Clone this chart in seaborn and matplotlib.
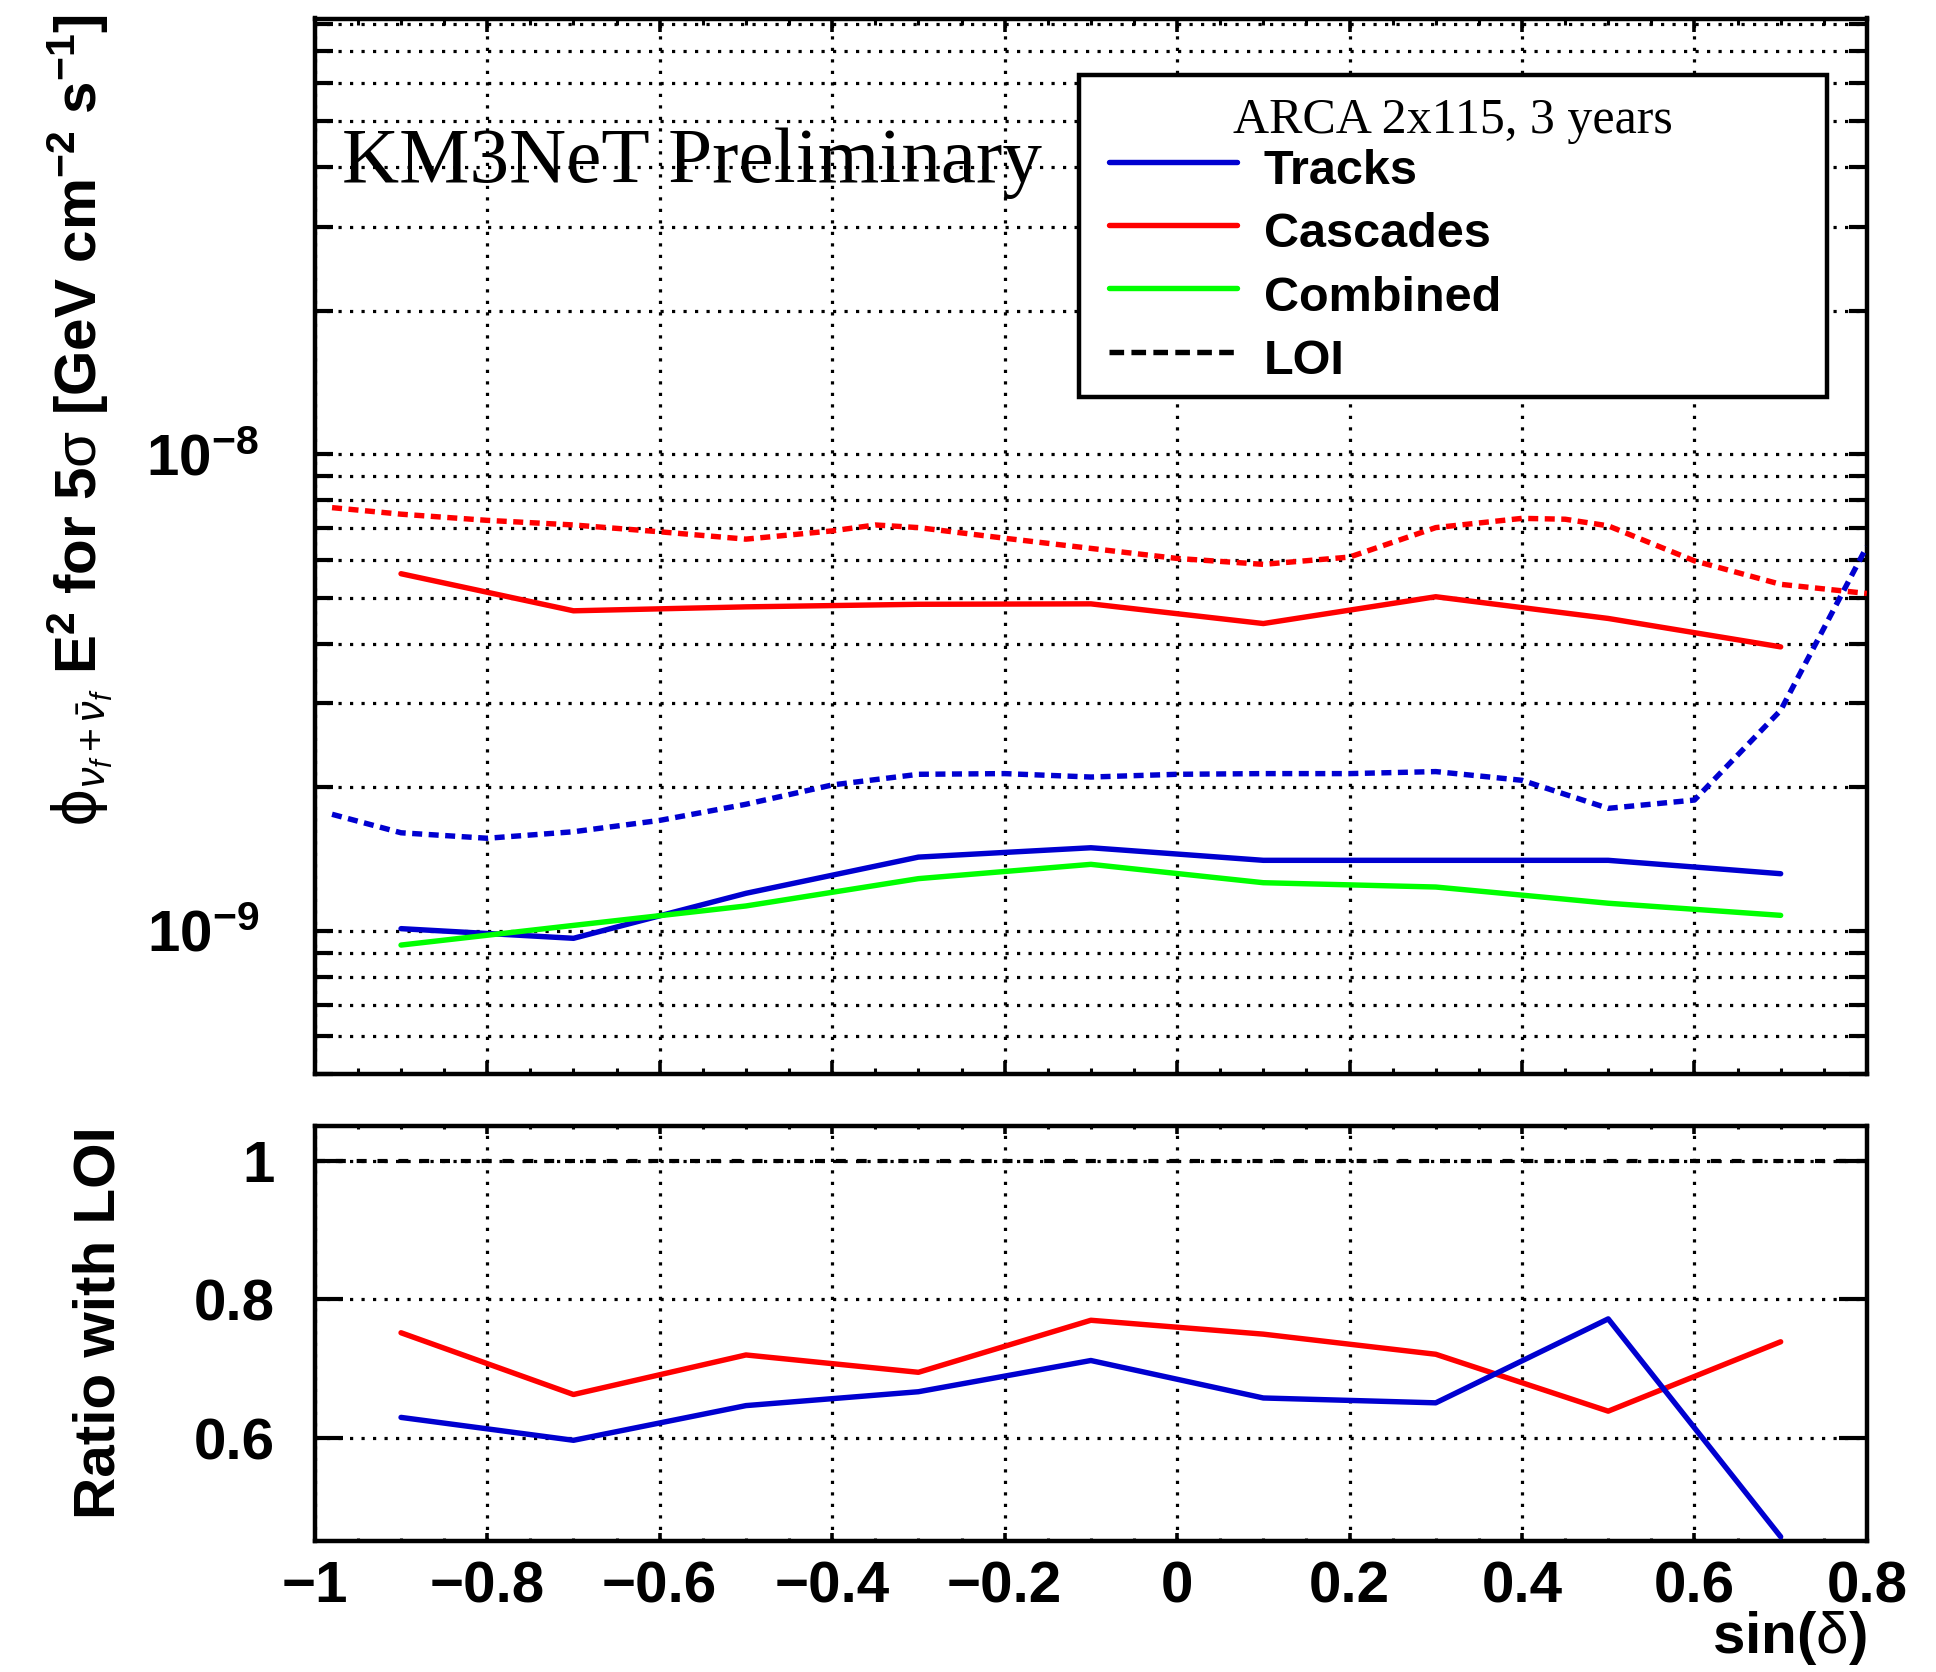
import numpy as np
import pandas as pd
import matplotlib
matplotlib.use("Agg")
import matplotlib.pyplot as plt
import matplotlib.ticker as mticker
from matplotlib.lines import Line2D
from matplotlib.legend_handler import HandlerLine2D
from matplotlib.font_manager import FontProperties
import seaborn as sns

# ---------------- data ----------------
sin_dec = [-0.9, -0.7, -0.5, -0.3, -0.1, 0.1, 0.3, 0.5, 0.7]
tracks = [1.01e-9, 0.964e-9, 1.198e-9, 1.427e-9, 1.493e-9, 1.405e-9, 1.405e-9, 1.405e-9, 1.317e-9]
cascades = [5.61e-9, 4.69e-9, 4.78e-9, 4.84e-9, 4.85e-9, 4.41e-9, 5.02e-9, 4.52e-9, 3.94e-9]
combined = [0.933e-9, 1.026e-9, 1.127e-9, 1.286e-9, 1.378e-9, 1.261e-9, 1.235e-9, 1.142e-9, 1.077e-9]

loi_casc_x = [-0.98, -0.9, -0.8, -0.7, -0.6, -0.5, -0.4, -0.35, -0.3, -0.2, -0.1,
              0.0, 0.1, 0.2, 0.3, 0.4, 0.45, 0.5, 0.6, 0.7, 0.8]
loi_casc = [7.72e-9, 7.48e-9, 7.26e-9, 7.10e-9, 6.87e-9, 6.63e-9, 6.90e-9, 7.10e-9, 7.01e-9,
            6.66e-9, 6.34e-9, 6.04e-9, 5.87e-9, 6.08e-9, 7.01e-9, 7.33e-9, 7.30e-9, 7.07e-9,
            5.97e-9, 5.33e-9, 5.10e-9]

loi_trk_x = [-0.98, -0.9, -0.8, -0.7, -0.6, -0.5, -0.4, -0.3, -0.2, -0.1,
             0.0, 0.1, 0.2, 0.3, 0.4, 0.5, 0.6, 0.7, 0.8]
loi_trk = [1.755e-9, 1.605e-9, 1.563e-9, 1.613e-9, 1.704e-9, 1.842e-9, 2.022e-9, 2.129e-9,
           2.136e-9, 2.101e-9, 2.129e-9, 2.136e-9, 2.136e-9, 2.157e-9, 2.068e-9, 1.806e-9,
           1.880e-9, 2.90e-9, 6.40e-9]

ratio_cascades = [0.752, 0.663, 0.720, 0.695, 0.770, 0.750, 0.721, 0.639, 0.739]
ratio_tracks = [0.630, 0.597, 0.647, 0.667, 0.712, 0.658, 0.651, 0.772, 0.458]
ratio_ref = 1.0

x_ticks = [-1.0, -0.8, -0.6, -0.4, -0.2, 0.0, 0.2, 0.4, 0.6, 0.8]
x_tick_labels = ["\u22121", "\u22120.8", "\u22120.6", "\u22120.4", "\u22120.2", "0", "0.2", "0.4", "0.6", "0.8"]
y_major_ticks = [1e-9, 1e-8]
y_major_labels = [r"10$^{\mathbf{-9}}$", r"10$^{\mathbf{-8}}$"]
ratio_ticks = [0.6, 0.8, 1.0]
ratio_tick_labels = ["0.6", "0.8", "1"]

legend_labels = ["Tracks", "Cascades", "Combined", "LOI"]
legend_title = "ARCA 2x115, 3 years"
watermark = "KM3NeT Preliminary"
ylabel_top = (r"$\mathsf{\phi}_{\nu_{f}+\bar{\nu}_{f}}$ E$^{\mathbf{2}}$ for 5$\mathrm{\sigma}$ "
              r"[GeV cm$^{\mathbf{-2}}$ s$^{\mathbf{-1}}$]")
ylabel_bottom = "Ratio with LOI"
xlabel = r"sin($\mathrm{\delta}$)"

# ---------------- style ----------------
sns.set_style("white")
plt.rcParams["font.family"] = ["Liberation Sans", "DejaVu Sans"]
plt.rcParams["font.weight"] = "bold"
plt.rcParams["mathtext.fontset"] = "custom"
plt.rcParams["mathtext.rm"] = "Liberation Sans:weight=normal"
plt.rcParams["mathtext.it"] = "Liberation Sans:italic:weight=normal"
plt.rcParams["mathtext.bf"] = "Liberation Sans:weight=bold"
plt.rcParams["mathtext.sf"] = "DejaVu Sans:weight=normal"
plt.rcParams["axes.unicode_minus"] = True
for key in ["text.color", "axes.labelcolor", "xtick.color", "ytick.color", "axes.edgecolor"]:
    plt.rcParams[key] = "black"

BLUE = "#0000d0"
RED = "#ff0000"
GREEN = "#00ff00"
LW = 3.9
LOI_DASH = (0, (1.85, 1.2))
GRID_KW = dict(color="black", linestyle=(0, (1.0, 2.6)), linewidth=2.3)

W, H = 1936, 1672
fig = plt.figure(figsize=(W / 100, H / 100), dpi=100)
L, R = 314.8 / W, 1866.9 / W
ax1 = fig.add_axes([L, 1 - 1074.2 / H, R - L, (1074.2 - 18.5) / H])
ax2 = fig.add_axes([L, 1 - 1540.9 / H, R - L, (1540.9 - 1126.0) / H])

df_main = pd.DataFrame({"x": sin_dec, "tracks": tracks, "cascades": cascades, "combined": combined})
df_lc = pd.DataFrame({"x": loi_casc_x, "y": loi_casc})
df_lt = pd.DataFrame({"x": loi_trk_x, "y": loi_trk})
df_ratio = pd.DataFrame({"x": sin_dec, "casc": ratio_cascades, "trk": ratio_tracks})

# ---------------- top panel ----------------
ax1.set_yscale("log")
sns.lineplot(data=df_lc, x="x", y="y", ax=ax1, color=RED, linewidth=LW, linestyle=LOI_DASH, errorbar=None, zorder=3)
sns.lineplot(data=df_lt, x="x", y="y", ax=ax1, color=BLUE, linewidth=LW, linestyle=LOI_DASH, errorbar=None, zorder=3)
sns.lineplot(data=df_main, x="x", y="cascades", ax=ax1, color=RED, linewidth=LW, errorbar=None, zorder=4)
sns.lineplot(data=df_main, x="x", y="tracks", ax=ax1, color=BLUE, linewidth=LW, errorbar=None, zorder=4)
sns.lineplot(data=df_main, x="x", y="combined", ax=ax1, color=GREEN, linewidth=LW, errorbar=None, zorder=5)

ax1.set_xlim(-1.0, 0.8)
ax1.set_ylim(5e-10, 8.2e-8)
ax1.set_xlabel("")
ax1.set_ylabel("")
ax1.set_xticks(x_ticks, [""] * len(x_ticks))
ax1.xaxis.set_minor_locator(mticker.MultipleLocator(0.05))
ax1.yaxis.set_major_locator(mticker.FixedLocator(y_major_ticks))
ax1.yaxis.set_major_formatter(mticker.FixedFormatter(y_major_labels))
ax1.yaxis.set_minor_locator(mticker.LogLocator(base=10, subs=np.arange(2, 10)))
ax1.yaxis.set_minor_formatter(mticker.NullFormatter())
ax1.set_axisbelow(True)
ax1.grid(True, which="both", axis="y", **GRID_KW)
ax1.grid(True, which="major", axis="x", **GRID_KW)
ax1.tick_params(axis="x", which="major", direction="in", length=9.5, width=2.6, top=True, bottom=True, labelbottom=False)
ax1.tick_params(axis="x", which="minor", direction="in", length=4.5, width=2.2, top=True, bottom=True)
ax1.tick_params(axis="y", which="both", direction="in", length=13, width=3, left=True, right=True,
                labelsize=42, pad=40)
for sp in ax1.spines.values():
    sp.set_linewidth(3.2)
    sp.set_color("black")

# legend
handles = [Line2D([], [], color=BLUE, linewidth=LW),
           Line2D([], [], color=RED, linewidth=LW),
           Line2D([], [], color=GREEN, linewidth=LW),
           Line2D([], [], color="black", linewidth=LW, linestyle=(0, (2.7, 1.35)))]
hmap = {h: HandlerLine2D(xpad=0.4) for h in handles}
leg = ax1.legend(handles, legend_labels, title=legend_title, handler_map=hmap,
                 loc="upper left",
                 bbox_to_anchor=(1079 / W, 1 - 396 / H, (1827 - 1079) / W, (396 - 75) / H),
                 bbox_transform=fig.transFigure, mode="expand", borderaxespad=0,
                 frameon=True, fancybox=False, framealpha=1, edgecolor="black",
                 prop=FontProperties(family="Liberation Sans", weight="bold", size=35),
                 title_fontproperties=FontProperties(family="Liberation Serif", weight="normal", size=36),
                 handlelength=3.04, handletextpad=0.54, handleheight=1.40,
                 labelspacing=0.15, borderpad=0.22)
leg.get_frame().set_linewidth(3.2)
leg.set_zorder(10)
leg.get_title().set_y(-12)

fig.text(342 / W, 1 - 182 / H, watermark, family="Liberation Serif", weight="normal",
         size=57, ha="left", va="baseline")

# ---------------- ratio panel ----------------
ax2.axhline(ratio_ref, color="black", linewidth=3.0, linestyle=(0, (2.4, 2.6)), zorder=3)
sns.lineplot(data=df_ratio, x="x", y="casc", ax=ax2, color=RED, linewidth=LW, errorbar=None, zorder=4)
sns.lineplot(data=df_ratio, x="x", y="trk", ax=ax2, color=BLUE, linewidth=LW, errorbar=None, zorder=4)
ax2.set_xlim(-1.0, 0.8)
ax2.set_ylim(0.452, 1.05)
ax2.set_xlabel("")
ax2.set_ylabel("")
ax2.set_xticks(x_ticks, x_tick_labels)
ax2.xaxis.set_minor_locator(mticker.MultipleLocator(0.05))
ax2.set_yticks(ratio_ticks, ratio_tick_labels)
ax2.yaxis.set_minor_locator(mticker.NullLocator())
ax2.set_axisbelow(True)
ax2.grid(True, which="major", axis="x", **GRID_KW)
ax2.grid(True, which="major", axis="y", **GRID_KW)
ax2.tick_params(axis="x", which="major", direction="in", length=6, width=2.6, top=True, bottom=True,
                labelsize=42, pad=14)
ax2.tick_params(axis="x", which="minor", direction="in", length=2.5, width=2.2, top=True, bottom=True)
ax2.tick_params(axis="y", which="major", direction="in", length=20, width=3, left=True, right=True,
                labelsize=42, pad=29)
for sp in ax2.spines.values():
    sp.set_linewidth(3.2)
    sp.set_color("black")

# ---------------- axis titles ----------------
fig.text(97 / W, 1 - 14 / H, ylabel_top, rotation=90, rotation_mode="anchor",
         ha="right", va="baseline", size=42, weight="bold")
fig.text(115 / W, 1 - 1323 / H, ylabel_bottom, rotation=90, rotation_mode="anchor",
         ha="center", va="baseline", size=42, weight="bold")
fig.text(1867 / W, 1 - 1653 / H, xlabel, ha="right", va="baseline", size=42, weight="bold")

fig.savefig("out.png", dpi=100)
